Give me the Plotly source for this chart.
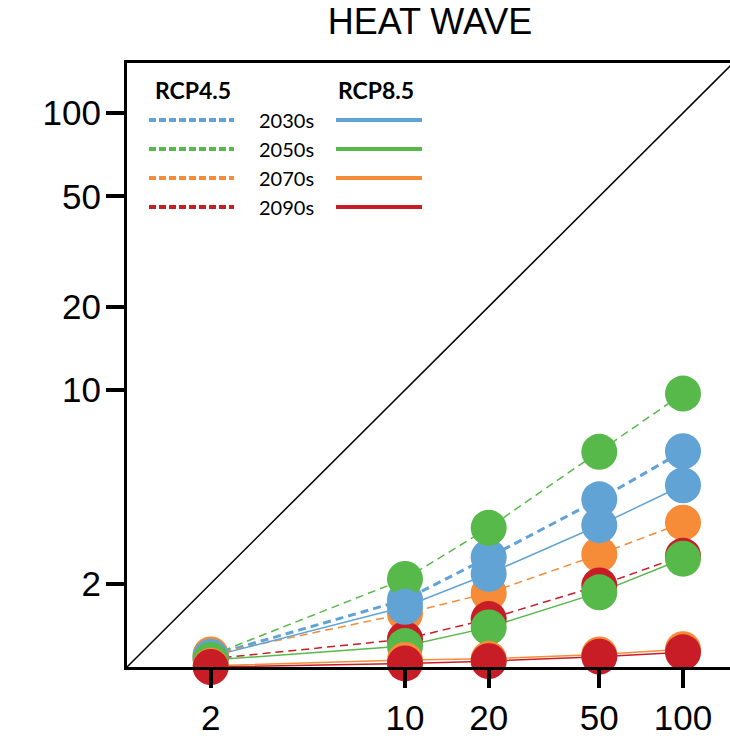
import plotly.graph_objects as go

# ---- data ----
return_periods = [2, 10, 20, 50, 100]
tick_vals = [2, 10, 20, 50, 100]
tick_text = ["2", "10", "20", "50", "100"]
periods = ["2030s", "2050s", "2070s", "2090s"]

rcp45_2030s = [1.10, 1.75, 2.49, 4.03, 6.01]
rcp45_2050s = [1.10, 2.08, 3.18, 5.98, 9.71]
rcp45_2070s = [1.11, 1.56, 1.85, 2.55, 3.32]
rcp45_2090s = [1.07, 1.26, 1.49, 1.97, 2.52]

rcp85_2030s = [1.09, 1.65, 2.17, 3.25, 4.53]
rcp85_2050s = [1.06, 1.19, 1.39, 1.86, 2.46]
rcp85_2070s = [1.01, 1.06, 1.07, 1.11, 1.16]
rcp85_2090s = [1.00, 1.03, 1.05, 1.09, 1.13]

diag = [1, 1000]

colors = ["#62a3d6", "#57b94a", "#f68b38", "#c81d27"]
rcp45 = [rcp45_2030s, rcp45_2050s, rcp45_2070s, rcp45_2090s]
rcp85 = [rcp85_2030s, rcp85_2050s, rcp85_2070s, rcp85_2090s]
dash45_width = [3, 1.5, 1.5, 1.5]

W, H = 730, 738
L, R, T, B = 127, 0, 63, 71
PW, PH = W - L - R, H - T - B

fig = go.Figure()

# diagonal 1:1 line
fig.add_trace(go.Scatter(x=diag, y=diag, mode="lines",
                         line=dict(color="black", width=1.5),
                         showlegend=False, hoverinfo="skip"))

# lines
for i in range(4):
    fig.add_trace(go.Scatter(x=return_periods, y=rcp45[i], mode="lines",
                             line=dict(color=colors[i], width=dash45_width[i], dash="8px,5px"),
                             showlegend=False))
for i in range(4):
    fig.add_trace(go.Scatter(x=return_periods, y=rcp85[i], mode="lines",
                             line=dict(color=colors[i], width=1.5),
                             showlegend=False))
# markers
for series in (rcp45, rcp85):
    for i in range(4):
        fig.add_trace(go.Scatter(x=return_periods, y=series[i], mode="markers",
                                 marker=dict(color=colors[i], size=36, line=dict(width=0)),
                                 cliponaxis=False, showlegend=False))

# ---- custom legend (paper coords from pixel helpers) ----
def px(x):
    return (x - L) / PW

def py(y):
    return (H - B - y) / PH

shapes = []
annotations = []
annotations.append(dict(x=px(193), y=py(90), xref="paper", yref="paper", text="<b>RCP4.5</b>",
                        showarrow=False, font=dict(family="Lato", size=23, color="black"),
                        xanchor="center", yanchor="middle"))
annotations.append(dict(x=px(376), y=py(90), xref="paper", yref="paper", text="<b>RCP8.5</b>",
                        showarrow=False, font=dict(family="Lato", size=23, color="black"),
                        xanchor="center", yanchor="middle"))
row_y = [120, 149, 178, 207]
for i, p in enumerate(periods):
    yy = py(row_y[i])
    shapes.append(dict(type="line", xref="paper", yref="paper", x0=px(149), x1=px(234),
                       y0=yy, y1=yy, line=dict(color=colors[i], width=4, dash="7px,3px")))
    shapes.append(dict(type="line", xref="paper", yref="paper", x0=px(336), x1=px(422),
                       y0=yy, y1=yy, line=dict(color=colors[i], width=4)))
    annotations.append(dict(x=px(286), y=yy, xref="paper", yref="paper", text=p,
                            showarrow=False, font=dict(family="Lato", size=20, color="black"),
                            xanchor="center", yanchor="middle"))

axis_font = dict(family="Liberation Sans", size=35, color="black")

fig.update_layout(
    width=W, height=H,
    margin=dict(l=L, r=R, t=T, b=B, autoexpand=False),
    paper_bgcolor="white", plot_bgcolor="white",
    title=dict(text="HEAT WAVE", x=430 / W, xanchor="center", xref="container",
               y=1 - 21 / H, yanchor="middle", yref="container",
               font=dict(family="Liberation Sans", size=36, color="black")),
    shapes=shapes, annotations=annotations,
    showlegend=False,
)
fig.update_xaxes(type="log", range=[0, PW / 278.0], tickvals=tick_vals, ticktext=tick_text,
                 showgrid=False, zeroline=False, showline=True, linecolor="black", linewidth=3,
                 mirror=True, ticks="outside", ticklen=18, tickwidth=3.5, tickcolor="black",
                 tickfont=axis_font, automargin=False)
fig.update_yaxes(type="log", range=[0, PH / 277.0], tickvals=tick_vals, ticktext=tick_text,
                 showgrid=False, zeroline=False, showline=True, linecolor="black", linewidth=3,
                 mirror=False, ticks="outside", ticklen=18, tickwidth=3.5, tickcolor="black",
                 tickfont=axis_font, ticklabelstandoff=-2, automargin=False)

fig.write_html("out.html", config={"displayModeBar": False},
               post_script="document.body.style.margin='0';document.body.style.overflow='hidden';")
